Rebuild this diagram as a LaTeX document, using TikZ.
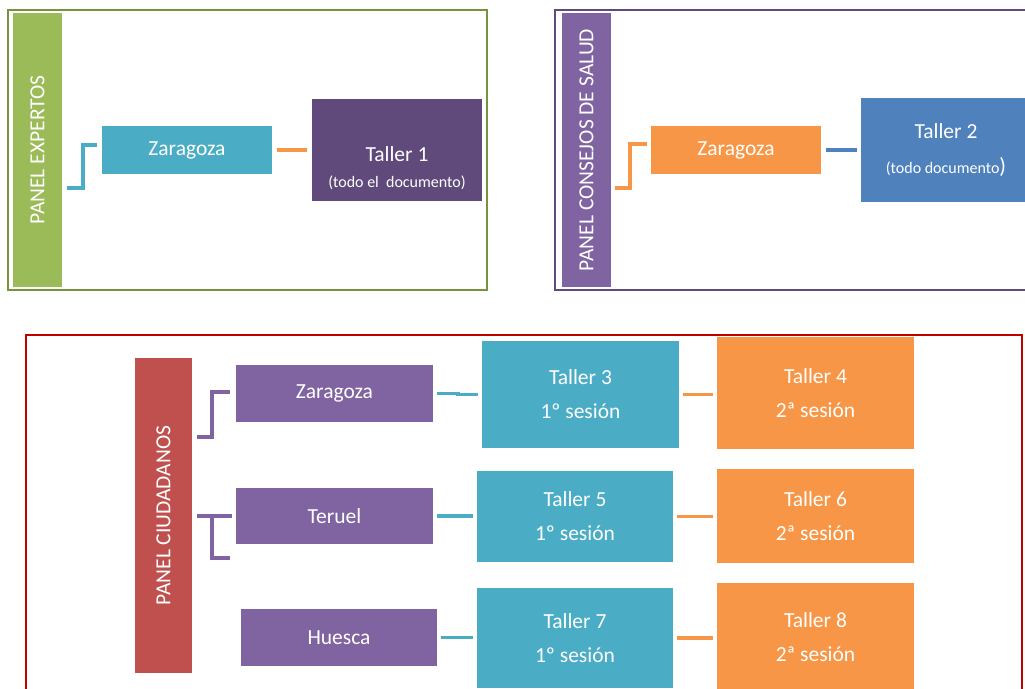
\documentclass[tikz,border=0pt]{standalone}
\usepackage{fontspec}
\setmainfont{Carlito}
\definecolor{verde}{HTML}{9BBB59}
\definecolor{verdeosc}{HTML}{77933C}
\definecolor{lila}{HTML}{8064A2}
\definecolor{lilaosc}{HTML}{604A7B}
\definecolor{rojo}{HTML}{C0504D}
\definecolor{rojoosc}{HTML}{C00000}
\definecolor{aqua}{HTML}{4BACC6}
\definecolor{naranja}{HTML}{F79646}
\definecolor{azul}{HTML}{4F81BD}
\begin{document}
\begin{tikzpicture}[x=1pt,y=-1pt,
  caja/.style={fill=#1,text=white,inner sep=0pt,align=center,
    font=\fontsize{21.5}{34}\selectfont},
  barra/.style={caja=#1,rotate=90,minimum height=49},
  linea/.style={draw=#1,line width=3.5pt},
  marco/.style={draw=#1,line width=2pt}]

\useasboundingbox (0,0) rectangle (1025,688);
\clip (0,0) rectangle (1025,688);

% panel expertos
\draw[marco=verdeosc] (8,10) rectangle (487,290);
\node[barra=verde,minimum width=274] (pe) at (37.5,150) {PANEL EXPERTOS};
\node[caja=aqua,minimum width=170,minimum height=48] (z1) at (187,150) {Zaragoza};
\node[caja=lilaosc,minimum width=170,minimum height=102] (t1) at (397,150) {};
\node[caja=lilaosc] at ([yshift=-18pt]t1.center)
  {Taller 1\\[-8pt]{\fontsize{16}{18}\selectfont(todo el\ \ documento)}};
\draw[linea=aqua] ([xshift=5pt]pe.south |- 0,188) -| (83,145) -- ([xshift=-5pt]z1.west |- 0,145);
\draw[linea=naranja] ([xshift=5pt]z1.east) -- ([xshift=-5pt]t1.west);

% panel consejos de salud
\draw[marco=lilaosc] (555,10) rectangle (1040,290);
\node[barra=lila,minimum width=274] (pc) at (586.5,150) {PANEL CONSEJOS DE SALUD};
\node[caja=naranja,minimum width=170,minimum height=48] (z2) at (736,150) {Zaragoza};
\node[caja=azul,minimum width=170,minimum height=104] (t2) at (946,150)
  {Taller 2\\[1pt]{\fontsize{16}{18}\selectfont(todo documento{\fontsize{22}{18}\selectfont)}}};
\draw[linea=naranja] ([xshift=4pt]pc.south |- 0,188) -| (630,144) -- ([xshift=-4pt]z2.west |- 0,144);
\draw[linea=azul] ([xshift=5pt]z2.east) -- ([xshift=-4pt]t2.west);

% panel ciudadanos
\draw[marco=rojoosc] (26,335) rectangle (1022,700);
\node[barra=rojo,minimum width=315,minimum height=57] (pu) at (163.5,515.5) {PANEL CIUDADANOS};
\node[caja=lila,minimum width=197,minimum height=57] (cz) at (334.5,393.5) {Zaragoza};
\node[caja=lila,minimum width=197,minimum height=56] (ct) at (334.5,516) {Teruel};
\node[caja=lila,minimum width=196,minimum height=57] (ch) at (339,637.5) {Huesca};

\node[caja=aqua,minimum width=197,minimum height=107] (t3) at (580.5,394.5) {Taller 3\\1º sesión};
\node[caja=aqua,minimum width=196,minimum height=91] (t5) at (575,516.5) {Taller 5\\1º sesión};
\node[caja=aqua,minimum width=196,minimum height=100] (t7) at (575,638) {Taller 7\\1º sesión};
\node[caja=naranja,minimum width=197,minimum height=112] (t4) at (815.5,393) {Taller 4\\2ª sesión};
\node[caja=naranja,minimum width=197,minimum height=94] (t6) at (815.5,516) {Taller 6\\2ª sesión};
\node[caja=naranja,minimum width=197,minimum height=108] (t8) at (815.5,637) {Taller 8\\2ª sesión};

\draw[linea=lila] ([xshift=5pt]pu.south |- 0,437) -| (212,392) -- ([xshift=-6pt]cz.west |- 0,392);
\draw[linea=lila] ([xshift=5pt]pu.south |- ct.west) -- ([xshift=-4pt]ct.west);
\draw[linea=lila] (212,515) |- ([xshift=-6pt]ct.west |- 0,558);

\draw[linea=aqua] ([xshift=4pt]cz.east) -- ++(21,0) |- ([xshift=-4pt]t3.west);
\foreach \a/\b in {ct/t5,ch/t7}
  \draw[linea=aqua] ([xshift=4pt]\a.east) -- ([xshift=-4pt]\b.west |- \a.east);
\foreach \a/\b in {t3/t4,t5/t6,t7/t8}
  \draw[linea=naranja] ([xshift=4pt]\a.east) -- ([xshift=-4pt]\b.west |- \a.east);

\end{tikzpicture}
\end{document}
